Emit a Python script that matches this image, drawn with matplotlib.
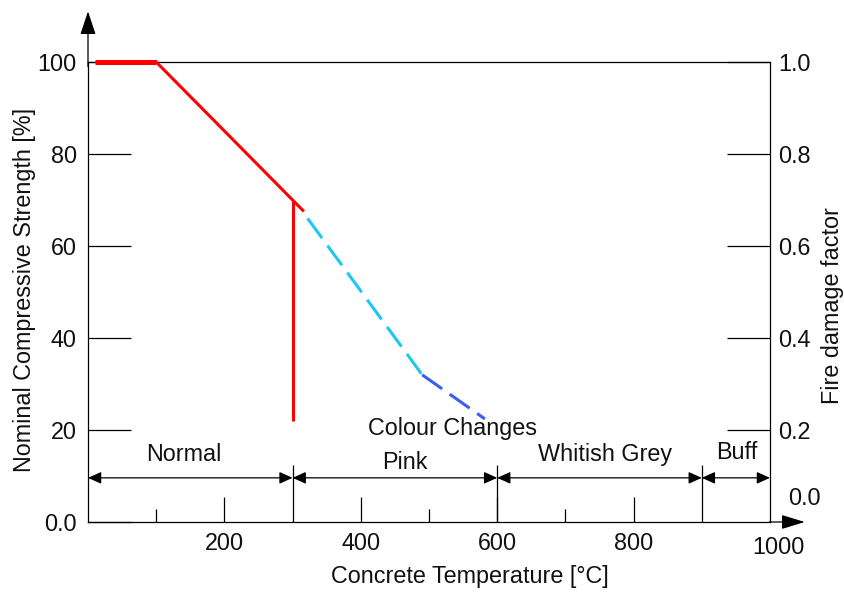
import matplotlib.pyplot as plt

plt.rcParams['font.family'] = ['Liberation Sans', 'DejaVu Sans']

# strength curve (% of nominal) vs temperature
flat_x = [10, 100]
flat_y = [100, 100]
slope_x = [100, 315]
slope_y = [100, 67.75]
cutoff_x = [300, 300]
cutoff_y = [22, 70]
pink_x = [322, 490]
pink_y = [66, 32]
grey_x = [490, 582]
grey_y = [32, 22.4]

zone_edges = [0, 300, 600, 900, 1000]
zone_names = ["Normal", "Pink", "Whitish Grey", "Buff"]

left_ticks = [0, 20, 40, 60, 80, 100]
left_labels = ["0.0", "20", "40", "60", "80", "100"]
right_ticks = [0.2, 0.4, 0.6, 0.8, 1.0]
right_labels = ["0.2", "0.4", "0.6", "0.8", "1.0"]
x_major = [200, 400, 600, 800]
x_minor = [100, 500, 700]

FS = 16.8
TXT = '#111111'

fig = plt.figure(figsize=(8.45, 5.92), dpi=100)
ax = fig.add_axes([88 / 845, 70 / 592, 682 / 845, 460 / 592])
ax.set_xlim(0, 1000)
ax.set_ylim(0, 100)

for s in ax.spines.values():
    s.set_linewidth(0.9)
    s.set_color('black')

ax.plot(flat_x, flat_y, color='red', lw=3.6, solid_capstyle='butt', clip_on=False, zorder=4)
ax.plot(slope_x, slope_y, color='red', lw=2.2, clip_on=False, zorder=4)
ax.plot(cutoff_x, cutoff_y, color='red', lw=2.2, solid_capstyle='butt', zorder=4)
ax.plot(pink_x, pink_y, color='#1fc6f2', lw=2.2, dashes=(8, 3))
ax.plot(grey_x, grey_y, color='#3c5df2', lw=2.2, dashes=(8, 3))

# axis arrows
ax.annotate('', xy=(0, 111), xytext=(0, 99),
            arrowprops=dict(arrowstyle='-|>,head_length=0.72,head_width=0.24',
                            color='black', lw=0.9, mutation_scale=20,
                            shrinkA=0, shrinkB=0),
            annotation_clip=False)
ax.annotate('', xy=(1051, 0), xytext=(999, 0),
            arrowprops=dict(arrowstyle='-|>,head_length=0.72,head_width=0.22',
                            color='black', lw=0.9, mutation_scale=20,
                            shrinkA=0, shrinkB=0),
            annotation_clip=False)

# colour zones
ax.vlines(zone_edges[1:-1], 0, 12.4, color='black', lw=0.9)
for a, b in zip(zone_edges[:-1], zone_edges[1:]):
    ax.annotate('', xy=(b, 9.6), xytext=(a, 9.6),
                arrowprops=dict(arrowstyle='<|-|>,head_length=0.4,head_width=0.18',
                                color='black', lw=0.9, mutation_scale=20,
                                shrinkA=0, shrinkB=0),
                annotation_clip=False)

label_pos = [(140, 14.6), (465, 13.0), (758, 14.6), (951, 15.2)]
for name, (x, y) in zip(zone_names, label_pos):
    ax.text(x, y, name, ha='center', va='center', fontsize=FS, color=TXT)
ax.text(534, 20.4, "Colour Changes", ha='center', va='center', fontsize=FS, color=TXT)

# left axis
ax.set_yticks(left_ticks)
ax.set_yticklabels(left_labels)
ax.tick_params(axis='y', direction='in', length=31, width=0.9, pad=8,
               labelsize=FS, labelcolor=TXT)

# bottom axis
ax.set_xticks(x_major)
ax.set_xticks(x_minor, minor=True)
ax.tick_params(axis='x', which='major', direction='in', length=18, width=0.9,
               pad=7, labelsize=FS, labelcolor=TXT)
ax.tick_params(axis='x', which='minor', direction='in', length=9.5, width=0.9)
ax.text(1012, -5.6, "1000", ha='center', va='center', fontsize=FS, color=TXT)

# right axis
ax2 = ax.twinx()
ax2.set_ylim(0, 1)
for s in ax2.spines.values():
    s.set_visible(False)
ax2.set_yticks(right_ticks)
ax2.set_yticklabels(right_labels)
ax2.tick_params(axis='y', direction='in', length=31, width=0.9, pad=6,
                labelsize=FS, labelcolor=TXT)
ax.text(1050, 5.2, "0.0", ha='center', va='center', fontsize=FS, color=TXT)

fig.text(25 / 845, 1 - 290 / 592, "Nominal Compressive Strength [%]", rotation=90,
         ha='center', va='center', fontsize=FS, color=TXT)
fig.text(833 / 845, 1 - 306 / 592, "Fire damage factor", rotation=90,
         ha='center', va='center', fontsize=FS, color=TXT)
fig.text(470 / 845, 1 - 577 / 592, "Concrete Temperature [°C]",
         ha='center', va='center', fontsize=FS, color=TXT)

fig.savefig('out.png', dpi=100)
